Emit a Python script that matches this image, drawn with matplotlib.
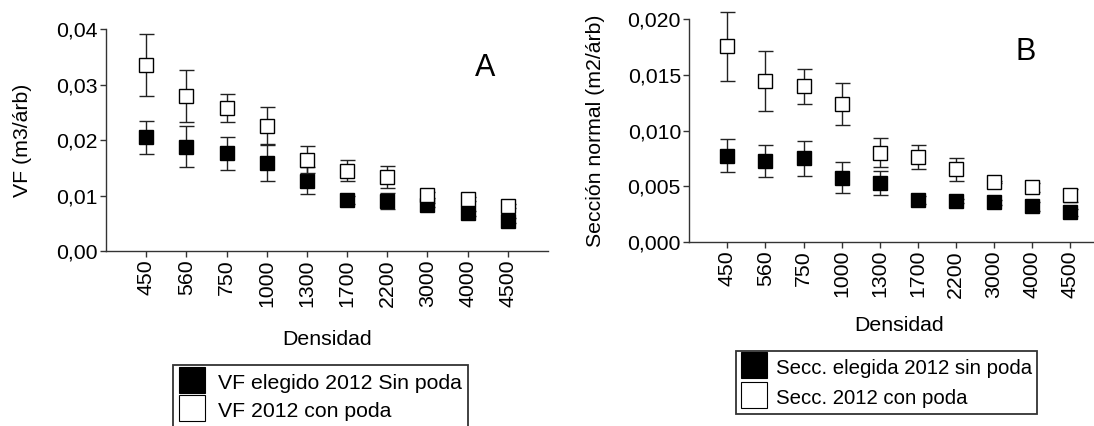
import matplotlib
matplotlib.use("Agg")
import matplotlib.pyplot as plt
from matplotlib.lines import Line2D
from matplotlib.ticker import FuncFormatter

plt.rcParams["font.family"] = ["Liberation Sans", "DejaVu Sans"]
plt.rcParams["font.size"] = 15.3

densidad = ["450", "560", "750", "1000", "1300", "1700", "2200", "3000", "4000", "4500"]

# Panel A: volumen (m3/arb)
vf_sin_poda = [0.0205, 0.0188, 0.0176, 0.0159, 0.0127, 0.0092, 0.0090, 0.0083, 0.0068, 0.0055]
vf_sin_poda_err = [0.0030, 0.0037, 0.0030, 0.0033, 0.0024, 0.0008, 0.0015, 0.0003, 0.0005, 0.0005]
vf_con_poda = [0.0335, 0.0279, 0.0258, 0.0226, 0.0165, 0.0145, 0.0134, 0.0101, 0.0094, 0.0081]
vf_con_poda_err = [0.0056, 0.0047, 0.0026, 0.0033, 0.0025, 0.0019, 0.0020, 0.0005, 0.0004, 0.0004]

# Panel B: seccion normal (m2/arb)
secc_sin_poda = [0.00773, 0.00726, 0.00750, 0.00576, 0.00530, 0.00375, 0.00366, 0.00354, 0.00318, 0.00264]
secc_sin_poda_err = [0.0015, 0.0014, 0.0016, 0.0014, 0.0011, 0.0004, 0.0002, 0.0002, 0.0004, 0.0003]
secc_con_poda = [0.01757, 0.01442, 0.01397, 0.01238, 0.00800, 0.00764, 0.00650, 0.00537, 0.00489, 0.00417]
secc_con_poda_err = [0.0031, 0.0027, 0.0016, 0.0019, 0.0013, 0.0011, 0.0010, 0.0001, 0.0004, 0.0006]

fig = plt.figure(figsize=(10.94, 4.26), dpi=100)
ax_a = fig.add_axes([0.0969, 0.4108, 0.404, 0.5204])
ax_b = fig.add_axes([0.6301, 0.4326, 0.3827, 0.522])

err_kw = dict(fmt="s", markersize=10.4, markeredgecolor="black", markeredgewidth=1.0,
              ecolor="#222222", elinewidth=1.0, capsize=5.4, capthick=1.0, clip_on=False)


def style_axis(ax, ymax, step, ndec):
    ax.set_xlim(-1, 10)
    ax.set_ylim(0, ymax)
    ax.set_yticks([i * step for i in range(int(round(ymax / step)) + 1)])
    ax.yaxis.set_major_formatter(FuncFormatter(lambda v, p: f"{v:.{ndec}f}".replace(".", ",")))
    for side in ["top", "right"]:
        ax.spines[side].set_visible(False)
    for side in ["left", "bottom"]:
        ax.spines[side].set_color("#333333")
        ax.spines[side].set_linewidth(1.0)
    ax.tick_params(axis="both", direction="out", length=4, width=1.0, color="#333333")
    ax.tick_params(axis="y", pad=2)
    ax.tick_params(axis="x", pad=2, labelrotation=90)


# panel A
ax_a.errorbar(densidad, vf_sin_poda, yerr=vf_sin_poda_err, markerfacecolor="black", zorder=3, **err_kw)
ax_a.errorbar(densidad, vf_con_poda, yerr=vf_con_poda_err, markerfacecolor="white", zorder=4, **err_kw)
style_axis(ax_a, 0.04, 0.01, 2)
ax_a.set_ylabel("VF (m3/árb)", va="center")
ax_a.yaxis.set_label_coords(-0.188, 0.5)
ax_a.set_xlabel("Densidad", va="center")
ax_a.xaxis.set_label_coords(0.5, -0.40)
ax_a.text(0.857, 0.825, "A", transform=ax_a.transAxes, fontsize=22, ha="center", va="center")

# panel B
ax_b.errorbar(densidad, secc_sin_poda, yerr=secc_sin_poda_err, markerfacecolor="black", zorder=3, **err_kw)
ax_b.errorbar(densidad, secc_con_poda, yerr=secc_con_poda_err, markerfacecolor="white", zorder=4, **err_kw)
style_axis(ax_b, 0.020, 0.005, 3)
ax_b.set_ylabel("Sección normal (m2/árb)", va="center")
ax_b.yaxis.set_label_coords(-0.223, 0.5)
ax_b.set_xlabel("Densidad", va="center")
ax_b.xaxis.set_label_coords(0.5, -0.379)
ax_b.text(0.804, 0.854, "B", transform=ax_b.transAxes, fontsize=22, ha="center", va="center")


def square(face, size):
    return Line2D([0], [0], linestyle="none", marker="s", markersize=size,
                  markerfacecolor=face, markeredgecolor="black", markeredgewidth=0.8)


leg_kw = dict(loc="upper left", frameon=True, fancybox=False, borderpad=0.25,
              handlelength=1.3, handleheight=1.3, borderaxespad=0)

leg_a = fig.legend([square("black", 19.2), square("white", 19.2)],
                   ["VF elegido 2012 Sin poda", "VF 2012 con poda"], fontsize=15.3,
                   bbox_to_anchor=(172.7 / 1094, 1 - 365 / 426), handletextpad=0.6,
                   labelspacing=0.25, **leg_kw)
leg_b = fig.legend([square("black", 19.2), square("white", 19.2)],
                   ["Secc. elegida 2012 sin poda", "Secc. 2012 con poda"], fontsize=14.7,
                   bbox_to_anchor=(736 / 1094, 1 - 350.7 / 426), handletextpad=0.4,
                   labelspacing=0.4, **leg_kw)
for leg in (leg_a, leg_b):
    leg.get_frame().set_edgecolor("black")
    leg.get_frame().set_linewidth(1.3)

fig.savefig("out.png", dpi=100)
